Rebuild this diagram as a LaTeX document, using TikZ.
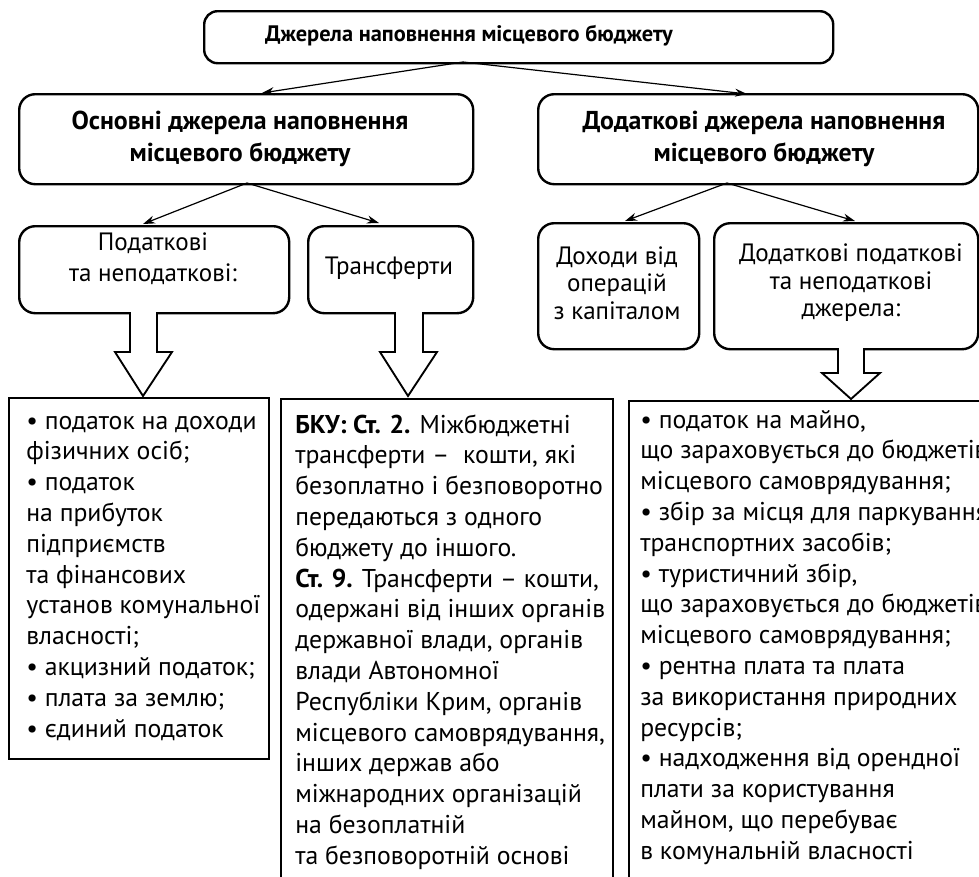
\documentclass[tikz,border=0pt]{standalone}
\usepackage{fontspec}
\setmainfont{PT Sans}
\usetikzlibrary{arrows.meta}
\newcommand{\bodylines}[1]{\parbox[t]{330pt}{\fontsize{19.3}{23.1}\selectfont #1}}
\begin{document}
\begin{tikzpicture}[x=0.75pt,y=-0.75pt,
  rbox/.style={draw, line width=1.8pt, rounded corners=10pt, inner sep=0pt, anchor=north west},
  sbox/.style={draw, line width=1.8pt, inner sep=0pt, anchor=north west},
  conn/.style={line width=0.9pt, -{Stealth[length=9pt,width=6pt]}},
  barrow/.style={draw, line width=1.4pt, line join=miter, fill=white},
  head/.style={font=\bfseries\fontsize{19.4}{24}\selectfont, align=center, inner sep=0pt},
  lbl/.style={font=\fontsize{18.8}{23}\selectfont, align=center, inner sep=0pt},
  body/.style={anchor=base west, inner sep=0pt},
]
\useasboundingbox (0,0) rectangle (979,876);
\fill[white] (0,0) rectangle (979,876);
\clip (0,0) rectangle (979,876);

% boxes
\node[rbox, minimum width=471.75pt, minimum height=39pt] (top) at (203,10) {};
\node[rbox, rounded corners=12pt, minimum width=340.5pt, minimum height=67.5pt] (lmid) at (18,93) {};
\node[rbox, rounded corners=12pt, minimum width=330pt, minimum height=67.5pt] (rmid) at (537,93) {};
\node[rbox, rounded corners=12pt, minimum width=202.5pt, minimum height=65.25pt] (podat) at (18,225) {};
\node[rbox, rounded corners=12pt, minimum width=123.75pt, minimum height=65.25pt] (trans) at (307,225) {};
\node[rbox, rounded corners=12pt, minimum width=120.75pt, minimum height=94.5pt] (dohod) at (537,222) {};
\node[rbox, rounded corners=12pt, minimum width=198pt, minimum height=94.5pt] (dodat) at (713,222) {};
\node[sbox, minimum width=195pt, minimum height=270.75pt] (lbot) at (8,397) {};
\node[sbox, minimum width=249pt, minimum height=369pt] (mbot) at (280,398) {};
\node[sbox, minimum width=300pt, minimum height=369pt] (rbot) at (628,400) {};

% labels
\node[head, font=\bfseries\fontsize{16.8}{24}\selectfont] (ttop) at (469,36) {Джерела наповнення місцевого бюджету};
\node[head] (tlmid) at (240,139) {Основні джерела наповнення\\місцевого бюджету};
\node[head] (trmid) at (764,139) {Додаткові джерела наповнення\\місцевого бюджету};
\node[lbl] (tpodat) at (153,259) {Податкові\\та неподаткові:};
\node[lbl] (ttrans) at (389,268) {Трансферти};
\node[lbl, font=\fontsize{18.8}{20.6}\selectfont] (tdohod) at (617,283) {Доходи від\\операцій\\з капіталом};
\node[lbl, font=\fontsize{18.8}{20.6}\selectfont] (tdodat) at (851,283) {Додаткові податкові\\та неподаткові\\джерела:};

% connectors
\coordinate (topout) at (463,62);
\coordinate (lmidin) at (262,93);
\coordinate (rmidin) at (747,94);
\coordinate (lmidout) at (247,183);
\coordinate (podatin) at (143,224);
\coordinate (transin) at (379,223);
\coordinate (rmidout) at (727,183);
\coordinate (dohodin) at (625,221);
\coordinate (dodatin) at (855,221);
\draw[conn] (topout) -- (lmidin);
\draw[conn] (topout) -- (rmidin);
\draw[conn] (lmidout) -- (podatin);
\draw[conn] (lmidout) -- (transin);
\draw[conn] (rmidout) -- (dohodin);
\draw[conn] (rmidout) -- (dodatin);

% block arrows
\draw[barrow] (130,312) -- (130,352) -- (115,352) -- (143,396) -- (172,352) -- (157,352) -- (157,312);
\draw[barrow] (395,312) -- (395,352) -- (380,352) -- (408,396) -- (437,352) -- (423,352) -- (423,312);
\draw[barrow] (838,348) -- (838,373) -- (822,373) -- (851,399) -- (880,373) -- (864,373) -- (864,348);

% body texts
\node[body] (blt) at (26,429) {\bodylines{• податок на доходи\\
фізичних осіб;\\
• податок\\
на прибуток\\
підприємств\\
та фінансових\\
установ комунальної\\
власності;\\
• акцизний податок;\\
• плата за землю;\\
• єдиний податок}};
\node[body] (bmt) at (295,433) {\bodylines{\textbf{БКУ: Ст. 2.} Міжбюджетні\\
трансферти –\ \ кошти, які\\
безоплатно і безповоротно\\
передаються з одного\\
бюджету до іншого.\\
\textbf{Ст. 9.} Трансферти – кошти,\\
одержані від інших органів\\
державної влади, органів\\
влади Автономної\\
Республіки Крим, органів\\
місцевого самоврядування,\\
інших держав або\\
міжнародних організацій\\
на безоплатній\\
та безповоротній основі}};
\node[body] (brt) at (640,428) {\bodylines{• податок на майно,\\
що зараховується до бюджетів\\
місцевого самоврядування;\\
• збір за місця для паркування\\
транспортних засобів;\\
• туристичний збір,\\
що зараховується до бюджетів\\
місцевого самоврядування;\\
• рентна плата та плата\\
за використання природних\\
ресурсів;\\
• надходження від орендної\\
плати за користування\\
майном, що перебуває\\
в комунальній власності}};
\end{tikzpicture}
\end{document}
